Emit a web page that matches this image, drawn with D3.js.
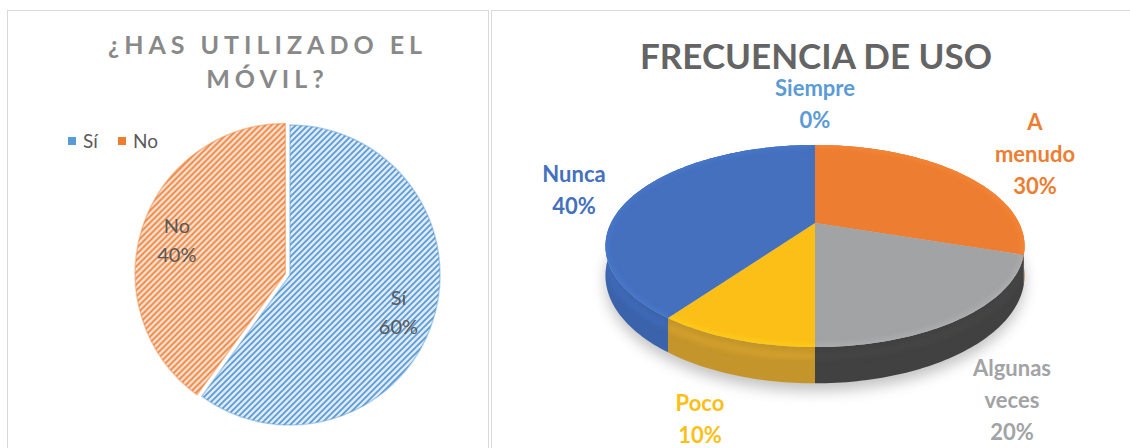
<!DOCTYPE html>
<html>
<head>
<meta charset="utf-8">
<script src="https://cdn.jsdelivr.net/npm/d3@7/dist/d3.min.js"></script>
<style>
body{margin:0;background:#fff;}
svg{display:block;font-family:Lato,"Open Sans",sans-serif;}
</style>
</head>
<body>
<svg id="chart" width="1130" height="448"></svg>
<script>
// ---- datos ----
var movilCats=["Sí","No"];
var movilVals=[60,40];
var movilColors=["#5b9bd5","#ed7d31"];
var movilBg=["#deebf7","#fbe3d6"];

var usoCats=["Siempre","A menudo","Algunas veces","Poco","Nunca"];
var usoVals=[0,30,20,10,40];
var usoColors=["#5b9bd5","#ed7d31","#a2a3a5","#fbbf17","#4470be"];
var usoSide=["#41719c","#c0632a","#414141","#c4952a","#3b63ab"];

var svg=d3.select("#chart");
var defs=svg.append("defs");

// marcos de los dos graficos
svg.append("rect").attr("x",7.5).attr("y",10.5).attr("width",481).attr("height",460)
    .attr("fill","#fff").attr("stroke","#d9d9d9");
svg.append("rect").attr("x",491.5).attr("y",10.5).attr("width",660).attr("height",460)
    .attr("fill","#fff").attr("stroke","#d9d9d9");

// ================= grafico 1: ¿has utilizado el movil? =================
movilCats.forEach(function(c,i){
    var p=defs.append("pattern").attr("id","hatch"+i)
        .attr("patternUnits","userSpaceOnUse").attr("width",6).attr("height",6);
    p.append("rect").attr("width",6).attr("height",6).attr("fill",movilBg[i]);
    p.append("path").attr("d","M-1,1 l2,-2 M0,6 l6,-6 M5,7 l2,-2")
        .attr("stroke",movilColors[i]).attr("stroke-width",1.7);
});

var titleSpacing=5;
svg.append("text").attr("x",265+titleSpacing/2).attr("y",54)
    .attr("text-anchor","middle").attr("font-size",25).attr("font-weight","bold")
    .attr("letter-spacing",titleSpacing).attr("fill","#898989")
    .selectAll("tspan").data(["¿HAS UTILIZADO EL","MÓVIL?"]).enter().append("tspan")
    .attr("x",265+titleSpacing/2).attr("dy",function(d,i){return i?34:0}).text(function(d){return d});

var lg=svg.append("g").attr("class","legend");
var lgItem=lg.selectAll("g").data(movilCats).enter().append("g")
    .attr("transform",function(d,i){return "translate("+(68+i*50)+",0)"});
lgItem.append("rect").attr("y",137).attr("width",8).attr("height",8)
    .attr("fill",function(d,i){return movilColors[i]});
lgItem.append("text").attr("x",15).attr("y",148).attr("font-size",19).attr("fill","#595959")
    .text(function(d){return d});

var r1=150, c1=[290,275], explode=5;
var pie1=d3.pie().sort(null).value(function(d){return d})(movilVals);
var arc1=d3.arc().innerRadius(0).outerRadius(r1);
var lab1=d3.arc().innerRadius(r1*0.76).outerRadius(r1*0.76);
var g1=svg.append("g").attr("transform","translate("+c1+")");
var sl1=g1.selectAll("g").data(pie1).enter().append("g")
    .attr("transform",function(d,i){
        if(i===0) return null;
        var m=(d.startAngle+d.endAngle)/2;
        return "translate("+(explode*Math.sin(m))+","+(-explode*Math.cos(m))+")";
    });
sl1.append("path").attr("d",arc1)
    .attr("fill",function(d,i){return "url(#hatch"+i+")"})
    .attr("stroke",function(d,i){return movilColors[i]}).attr("stroke-opacity",0.45).attr("stroke-width",1.5);
sl1.append("text").attr("text-anchor","middle").attr("font-size",20).attr("fill","#595959")
    .attr("transform",function(d){return "translate("+lab1.centroid(d)+")"})
    .selectAll("tspan").data(function(d,i){return [movilCats[i],d.value+"%"]}).enter().append("tspan")
    .attr("x",0).attr("y",function(d,i){return i?24:-5}).text(function(d){return d});

// ================= grafico 2: frecuencia de uso (tarta 3D) =================
svg.append("text").attr("x",816).attr("y",69).attr("text-anchor","middle")
    .attr("font-size",35).attr("font-weight","bold").attr("fill","#646464")
    .text("FRECUENCIA DE USO");

var cx=815, cy=223, R=204, RY=95.8, K=0.228, DEPTH=28;
function proj(t,drop){
    var u=Math.sin(t), v=-Math.cos(t), s=1/(1-K*v);
    return [cx+R*u*s, cy+RY*v*s+(drop||0)*s];
}
function arcPts(a0,a1,drop){
    var n=Math.max(2,Math.ceil((a1-a0)/0.02)), pts=[];
    for(var j=0;j<=n;j++) pts.push(proj(a0+(a1-a0)*j/n,drop));
    return pts;
}
var line=d3.line();
var pie2=d3.pie().sort(null).value(function(d){return d})(usoVals);
var shown=pie2.filter(function(d){return d.value>0});

// sombra
defs.append("filter").attr("id","blur").attr("x","-20%").attr("y","-40%").attr("width","140%").attr("height","180%")
    .append("feGaussianBlur").attr("stdDeviation",7);
defs.append("filter").attr("id","soft").attr("x","-10%").attr("y","-10%").attr("width","120%").attr("height","120%")
    .append("feGaussianBlur").attr("stdDeviation",2.5);
svg.append("path").attr("d",line(arcPts(0,2*Math.PI,DEPTH+6))+"Z")
    .attr("fill","#7a7a7a").attr("opacity",0.45).attr("filter","url(#blur)");

var g2=svg.append("g");
// laterales
g2.selectAll("path.side").data(shown).enter().append("path")
    .attr("class","side")
    .attr("d",function(d){
        var top=arcPts(d.startAngle,d.endAngle,0);
        var bot=arcPts(d.startAngle,d.endAngle,DEPTH).reverse();
        return line(top.concat(bot))+"Z";
    })
    .attr("fill",function(d){return usoSide[d.index]});
// brillo suave del lateral, recortado a cada lateral
shown.forEach(function(d){
    var sid="clipSide"+d.index;
    var top=arcPts(d.startAngle,d.endAngle,0);
    var bot=arcPts(d.startAngle,d.endAngle,DEPTH).reverse();
    defs.append("clipPath").attr("id",sid).append("path").attr("d",line(top.concat(bot))+"Z");
    g2.append("path").attr("clip-path","url(#"+sid+")")
        .attr("d",line(arcPts(d.startAngle,d.endAngle,DEPTH*0.25)))
        .attr("fill","none").attr("stroke",d3.color(usoSide[d.index]).brighter(0.5))
        .attr("stroke-width",8).attr("opacity",0.35).attr("filter","url(#soft)");
});
// caras superiores
g2.selectAll("path.top").data(shown).enter().append("path")
    .attr("class","top")
    .attr("d",function(d){return line([[cx,cy]].concat(arcPts(d.startAngle,d.endAngle,0)))+"Z"})
    .attr("fill",function(d){return usoColors[d.index]});
// bisel de la cara superior
shown.forEach(function(d){
    var cid="clipTop"+d.index;
    defs.append("clipPath").attr("id",cid).append("path")
        .attr("d",line([[cx,cy]].concat(arcPts(d.startAngle,d.endAngle,0)))+"Z");
    g2.append("path").attr("clip-path","url(#"+cid+")")
        .attr("d",line(arcPts(d.startAngle,d.endAngle,0)))
        .attr("fill","none").attr("stroke",d3.color(usoColors[d.index]).brighter(0.35))
        .attr("stroke-width",6).attr("opacity",0.5).attr("filter","url(#soft)");
});

// etiquetas
var usoLabelAt=[[815,96],[1035,130],[1012,376],[700,411],[574,182]];
svg.selectAll("text.lab2").data(pie2).enter().append("text").attr("class","lab2")
    .attr("text-anchor","middle").attr("font-size",22).attr("font-weight","bold")
    .attr("fill",function(d){return usoColors[d.index]})
    .selectAll("tspan").data(function(d){return usoCats[d.index].split(" ").concat([d.value+"%"])})
    .enter().append("tspan")
    .attr("x",function(){return usoLabelAt[d3.select(this.parentNode).datum().index][0]})
    .attr("y",function(d,i){return usoLabelAt[d3.select(this.parentNode).datum().index][1]+i*32})
    .text(function(d){return d});
</script>
</body>
</html>
